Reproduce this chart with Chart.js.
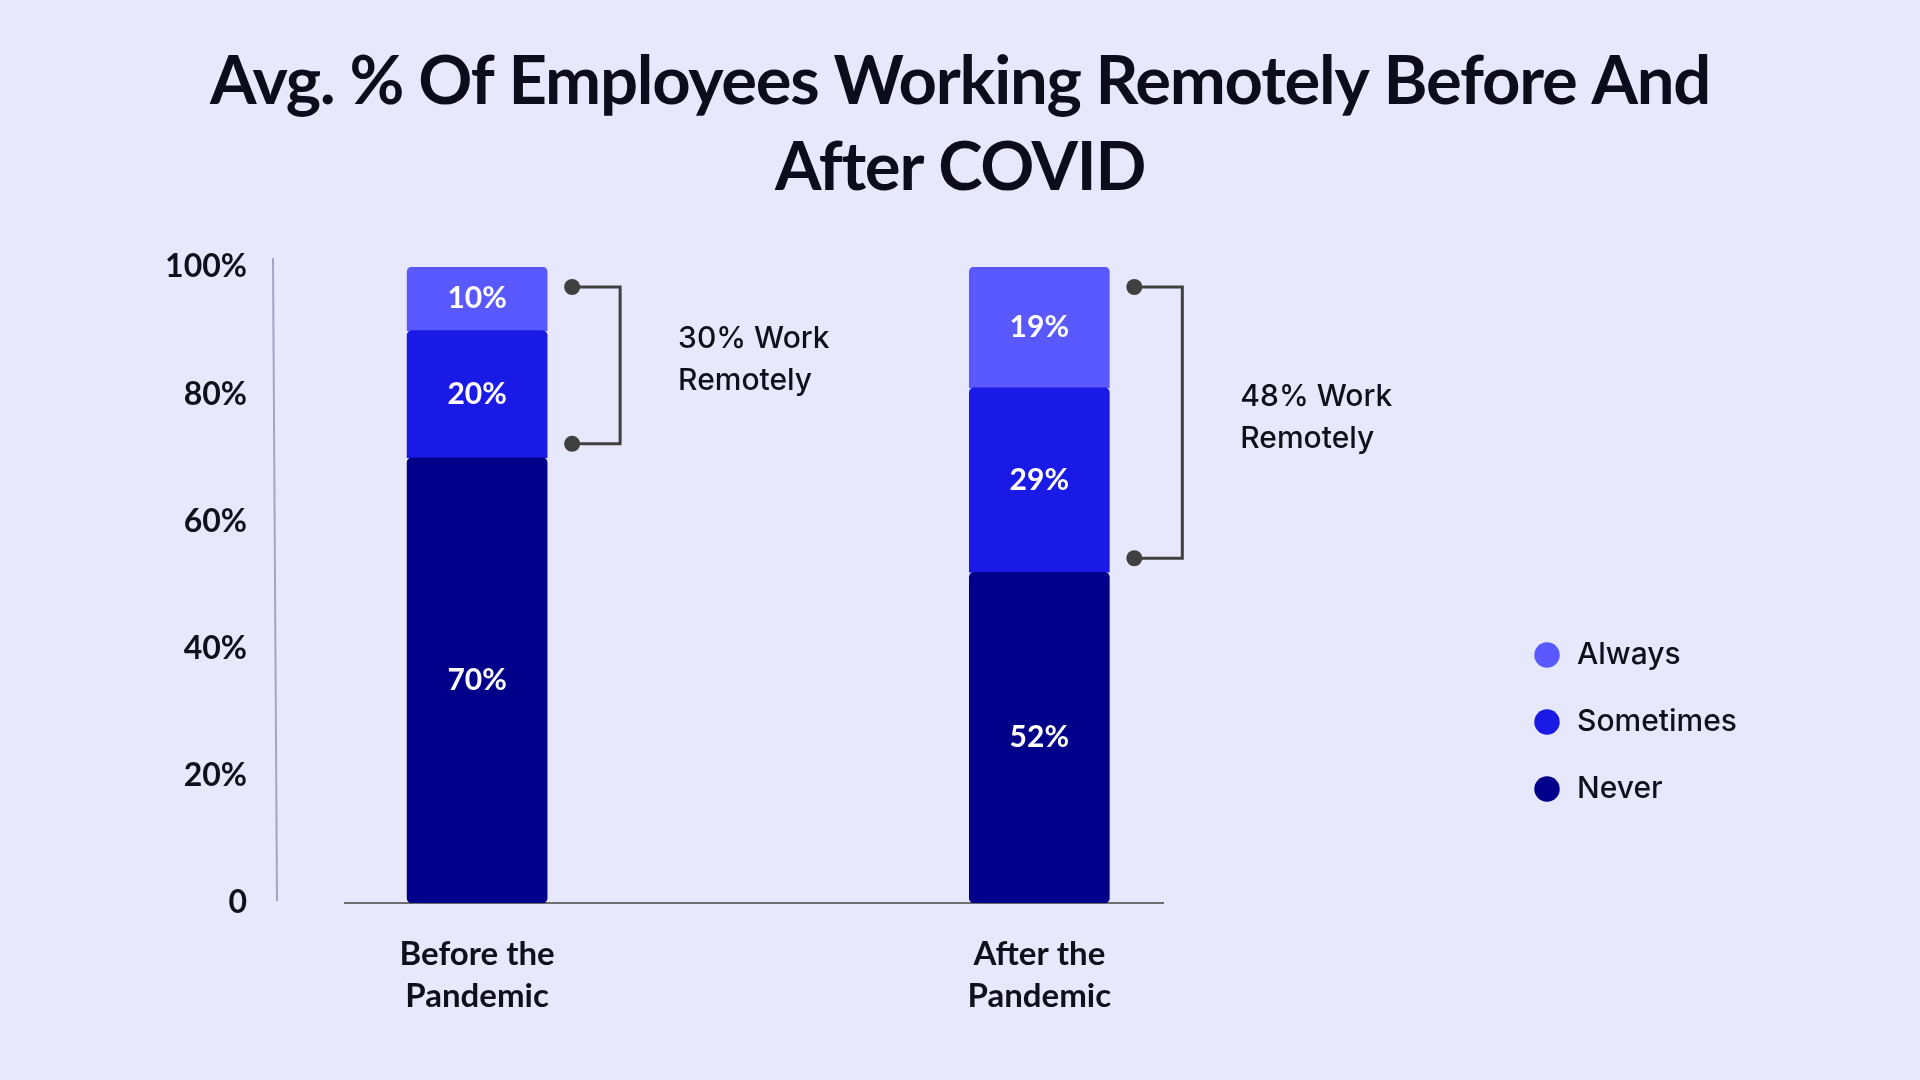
<!DOCTYPE html>
<html>
<head>
<meta charset="utf-8">
<title>Avg. % Of Employees Working Remotely Before And After COVID</title>
<script src="https://cdn.jsdelivr.net/npm/chart.js"></script>
<style>
  html, body { margin: 0; padding: 0; background: #e8e8fc; }
  #wrap { width: 1920px; height: 1080px; }
</style>
</head>
<body>
<div id="wrap"><canvas id="remoteChart" width="1920" height="1080"></canvas></div>
<script>
// Données
const titleLines = ['Avg. % Of Employees Working Remotely Before And', 'After COVID'];
const periods = [['Before the', 'Pandemic'], ['After the', 'Pandemic']];
const xPos = [0, 1];
const never = [70, 52];
const sometimes = [20, 29];
const always = [10, 19];
const yTicks = [0, 20, 40, 60, 80, 100];

const ink = '#10101c';
const pts = arr => xPos.map((x, i) => ({ x: x, y: arr[i] }));

// légende placée à droite, à la main
const placeLegend = {
    id: 'placeLegend',
    beforeLayout(chart) {
        const lg = chart.legend;
        if (lg && !lg._fixed) {
            const fit = lg.fit;
            lg.fit = function () { fit.apply(this, arguments); this.width = 757; };
            lg._fixed = true;
        }
    },
    afterLayout(chart) {
        const lg = chart.legend, a = chart.chartArea;
        const w = lg.width, h = lg.height;
        lg.left = a.right + 332; lg.right = lg.left + w;
        lg.top = a.top + 336; lg.bottom = lg.top + h;
    }
};

// titre un peu resserré
const titleSpacing = {
    id: 'titleSpacing',
    beforeDraw(chart) {
        const t = chart.titleBlock;
        if (t && !t._spaced) {
            const draw = t.draw;
            t.draw = function () {
                const c = this.ctx;
                c.save();
                c.letterSpacing = '-1.25px';
                draw.apply(this, arguments);
                c.restore();
            };
            t._spaced = true;
        }
    }
};

// trait vertical de l'axe Y
const yRule = {
    id: 'yRule',
    beforeDatasetsDraw(chart) {
        const ctx = chart.ctx, s = chart.scales.y, a = chart.chartArea;
        ctx.save();
        ctx.strokeStyle = '#a3a3c4';
        ctx.lineWidth = 2;
        ctx.beginPath();
        ctx.moveTo(a.left - 72, s.top - 9);
        ctx.lineTo(a.left - 68, s.bottom - 2);
        ctx.stroke();
        ctx.restore();
    }
};

// pourcentages dans les segments
const segmentLabels = {
    id: 'segmentLabels',
    afterDatasetsDraw(chart) {
        const ctx = chart.ctx;
        ctx.save();
        ctx.font = 'bold 30px Lato';
        ctx.fillStyle = '#ffffff';
        ctx.textAlign = 'center';
        ctx.textBaseline = 'middle';
        chart.data.datasets.forEach((ds, di) => {
            chart.getDatasetMeta(di).data.forEach((bar, i) => {
                ctx.fillText(ds.data[i].y + '%', bar.x, (bar.y + bar.base) / 2);
            });
        });
        ctx.restore();
    }
};

// accolades "xx% Work Remotely"
const remoteBrackets = {
    id: 'remoteBrackets',
    afterDatasetsDraw(chart) {
        const ctx = chart.ctx, y = chart.scales.y;
        const tops = chart.getDatasetMeta(2).data;
        ctx.save();
        xPos.forEach((_, i) => {
            const bar = tops[i];
            const total = never[i] + sometimes[i] + always[i];
            const y1 = y.getPixelForValue(total) + 20;
            const y2 = y.getPixelForValue(never[i]) - 14;
            const dotX = bar.x + bar.width / 2 + 25;
            const lineX = dotX + 48;
            ctx.strokeStyle = '#404040';
            ctx.fillStyle = '#404040';
            ctx.lineWidth = 3;
            ctx.beginPath();
            ctx.moveTo(dotX, y1);
            ctx.lineTo(lineX, y1);
            ctx.lineTo(lineX, y2);
            ctx.lineTo(dotX, y2);
            ctx.stroke();
            [y1, y2].forEach(yy => {
                ctx.beginPath();
                ctx.arc(dotX, yy, 8, 0, Math.PI * 2);
                ctx.fill();
            });
            const mid = (y1 + y2) / 2 - 5;
            ctx.fillStyle = ink;
            ctx.font = '500 30px Inter';
            ctx.textAlign = 'left';
            ctx.textBaseline = 'middle';
            ctx.fillText((sometimes[i] + always[i]) + '% Work', lineX + 58, mid - 21);
            ctx.fillText('Remotely', lineX + 58, mid + 21);
        });
        ctx.restore();
    }
};

const ctx = document.getElementById('remoteChart').getContext('2d');
const chart = new Chart(ctx, {
    type: 'bar',
    data: {
        datasets: [
            {
                label: 'Never',
                data: pts(never),
                backgroundColor: '#00008b',
                borderRadius: { topLeft: 5, topRight: 5, bottomLeft: 5, bottomRight: 5 },
                borderSkipped: false
            },
            {
                label: 'Sometimes',
                data: pts(sometimes),
                backgroundColor: '#1a1ae6',
                borderRadius: { topLeft: 5, topRight: 5 },
                borderSkipped: false
            },
            {
                label: 'Always',
                data: pts(always),
                backgroundColor: '#5959ff',
                borderRadius: { topLeft: 5, topRight: 5 },
                borderSkipped: false
            }
        ]
    },
    options: {
        responsive: false,
        animation: false,
        devicePixelRatio: 1,
        datasets: { bar: { barThickness: 140, borderWidth: 0 } },
        layout: { padding: { top: 39, left: 0, right: 0, bottom: 0 } },
        plugins: {
            title: {
                display: true,
                text: titleLines,
                color: '#0c0c1c',
                font: { family: 'Lato', size: 67, weight: 'bold', lineHeight: 86 / 67 },
                padding: { top: 0, bottom: 56 }
            },
            legend: {
                position: 'right',
                align: 'start',
                reverse: true,
                labels: {
                    usePointStyle: true,
                    pointStyle: 'circle',
                    boxWidth: 30,
                    boxHeight: 18,
                    padding: 37,
                    color: ink,
                    font: { family: 'Inter', size: 30, weight: '500' }
                }
            },
            tooltip: { enabled: false }
        },
        scales: {
            x: {
                type: 'linear',
                offset: false,
                min: -0.235,
                max: 1.22,
                stacked: true,
                grid: { display: false, drawTicks: false },
                border: { display: true, color: '#6e6e6e', width: 2 },
                afterBuildTicks: s => { s.ticks = xPos.map(v => ({ value: v })); },
                afterFit: s => { s.height = 177; },
                ticks: {
                    callback: (v, i) => periods[i],
                    padding: 30,
                    autoSkip: false,
                    maxRotation: 0,
                    color: ink,
                    font: { family: 'Lato', size: 33, weight: 'bold', lineHeight: 42 / 33 }
                }
            },
            y: {
                min: 0,
                max: 100,
                stacked: true,
                grid: { display: false, drawTicks: false },
                border: { display: false },
                afterBuildTicks: s => { s.ticks = yTicks.map(v => ({ value: v })); },
                afterFit: s => { s.width = 345; },
                ticks: {
                    callback: v => v === 0 ? '0' : v + '%',
                    padding: 98,
                    color: ink,
                    font: { family: 'Lato', size: 32, weight: 'bold' }
                }
            }
        }
    },
    plugins: [placeLegend, titleSpacing, yRule, segmentLabels, remoteBrackets]
});
</script>
</body>
</html>
